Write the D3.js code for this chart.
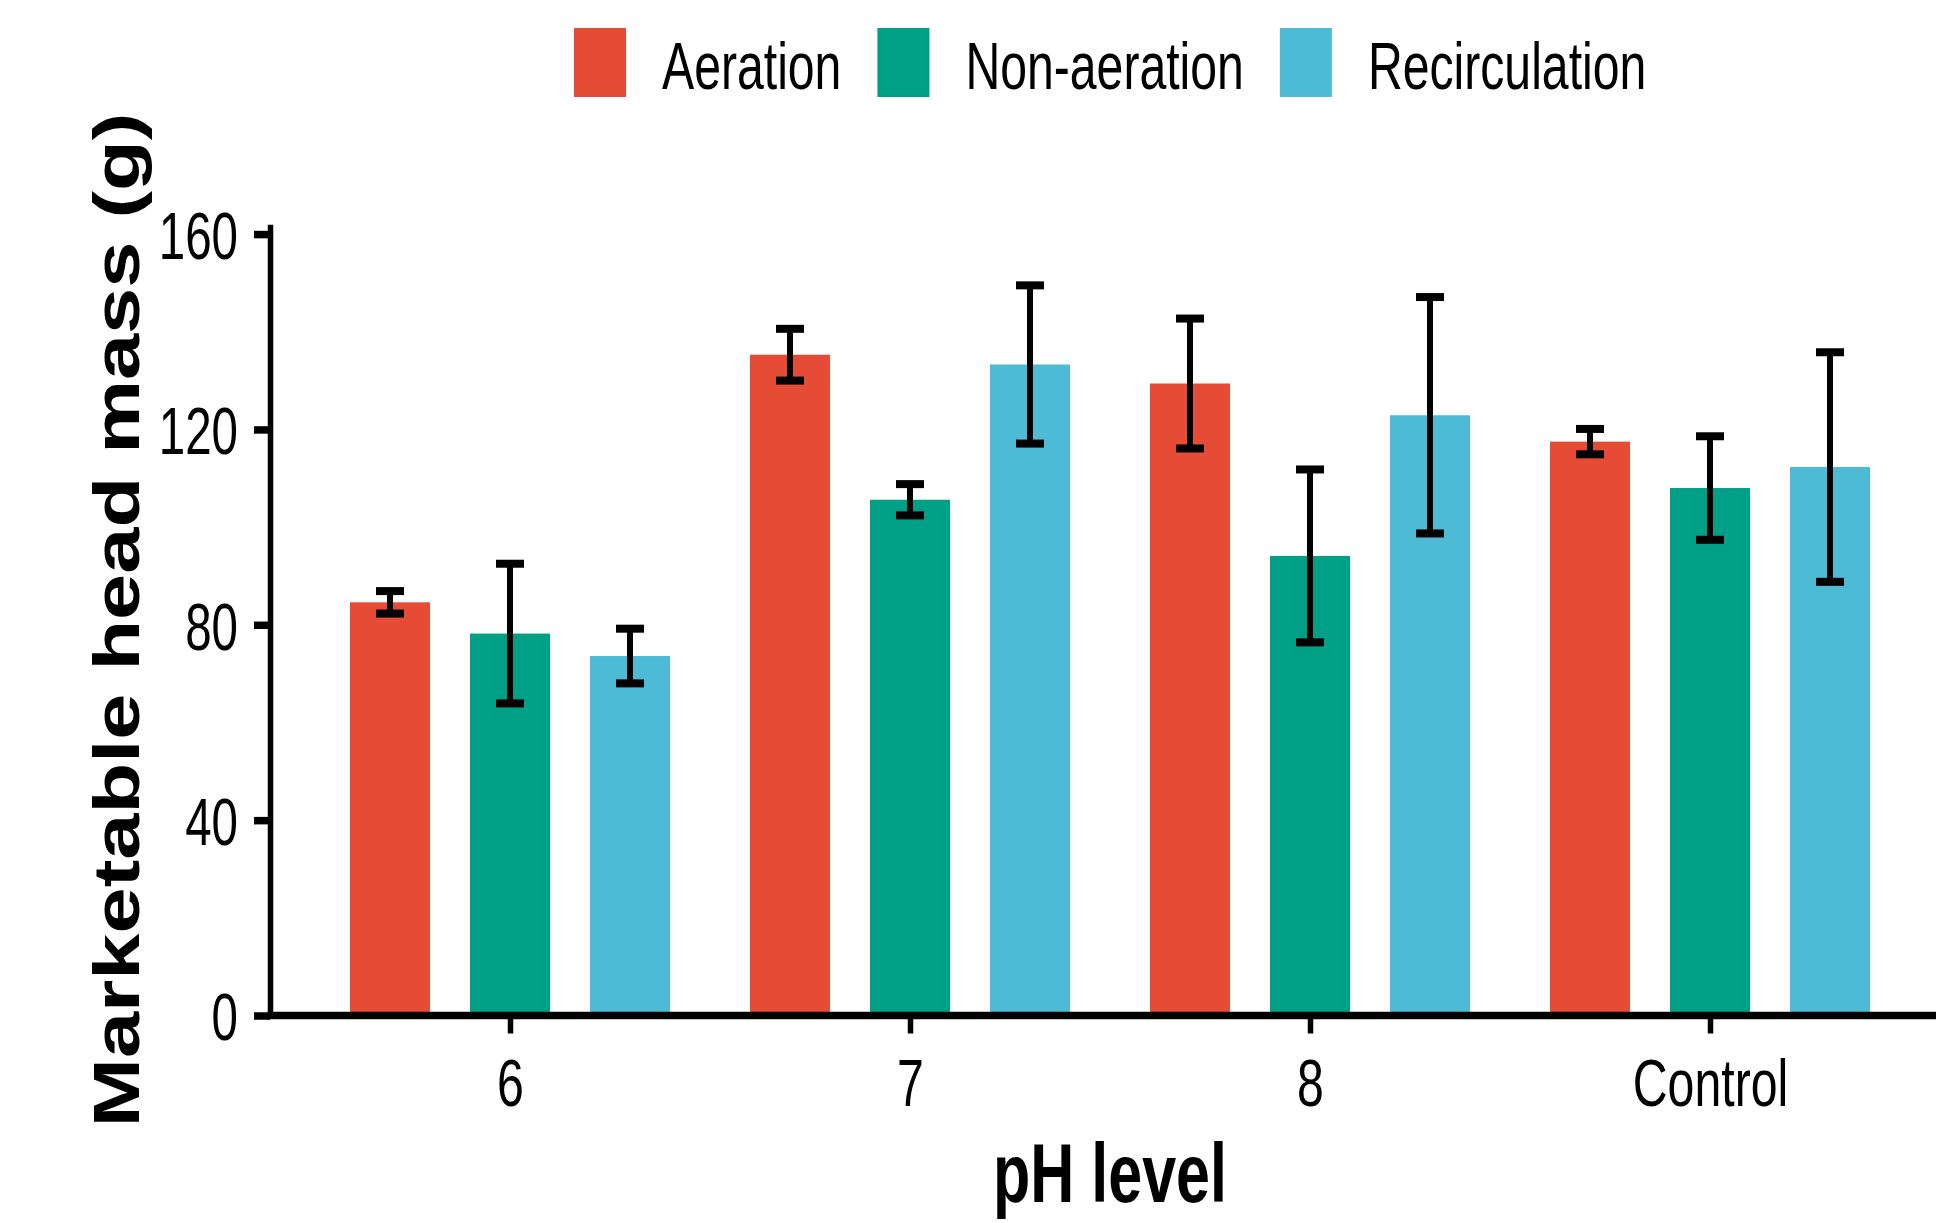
<!DOCTYPE html>
<html>
<head>
<meta charset="utf-8">
<script src="https://cdn.jsdelivr.net/npm/d3@7"></script>
<style>
  body { margin: 0; background: #fff; }
  text { font-family: "Liberation Sans", Arial, sans-serif; fill: #000; }
</style>
</head>
<body>
<div id="chart"></div>
<script>
// Marketable head mass by pH level and treatment (mean +/- error)

const categories = ["6", "7", "8", "Control"];
const series = ["Aeration", "Non-aeration", "Recirculation"];
const colors = ["#E64B35", "#00A087", "#4DBBD5"];

const aeration = [84.6, 135.3, 129.4, 117.5];
const aerationErr = [2.3, 5.3, 13.3, 2.6];
const nonAeration = [78.2, 105.6, 94.1, 108.0];
const nonAerationErr = [14.3, 3.2, 17.7, 10.6];
const recirculation = [73.6, 133.3, 122.9, 112.3];
const recirculationErr = [5.6, 16.2, 24.2, 23.5];

const yTicks = [0, 40, 80, 120, 160];

const w = 1936;
const h = 1223;
const sx = 0.72; // the original picture is squeezed sideways, so is the text

const means = [aeration, nonAeration, recirculation];
const errs = [aerationErr, nonAerationErr, recirculationErr];

// flat table for the marks
const data = [];
series.forEach((s, j) => {
  categories.forEach((c, i) => {
    data.push({ cat: c, series: s, value: means[j][i], err: errs[j][i] });
  });
});

const svg = d3.select("#chart")
  .append("svg")
  .attr("width", w)
  .attr("height", h);

// scales
const x = d3.scalePoint()
  .domain(categories)
  .range([510, 1710]);

const xSub = d3.scalePoint()
  .domain(series)
  .range([-120, 120]);

const barW = 80;
const capW = 28;

const y = d3.scaleLinear()
  .domain([0, 162])
  .range([1015.5, 224.3]);

const color = d3.scaleOrdinal()
  .domain(series)
  .range(colors);

const panelLeft = x(categories[0]) - 0.6 * x.step();
const panelRight = x(categories[categories.length - 1]) + 0.6 * x.step();

// bars
svg.append("g")
  .selectAll("rect")
  .data(data)
  .enter()
  .append("rect")
  .attr("x", d => x(d.cat) + xSub(d.series) - barW / 2)
  .attr("y", d => y(d.value))
  .attr("width", barW)
  .attr("height", d => y(0) - y(d.value))
  .attr("fill", d => color(d.series));

// error bars
const eb = svg.append("g")
  .selectAll("g")
  .data(data)
  .enter()
  .append("g")
  .attr("transform", d => `translate(${x(d.cat) + xSub(d.series)},0)`);

eb.append("line")
  .attr("x1", 0).attr("x2", 0)
  .attr("y1", d => y(d.value + d.err))
  .attr("y2", d => y(d.value - d.err))
  .attr("stroke", "#000")
  .attr("stroke-width", 6);

eb.selectAll(".cap")
  .data(d => [d.value + d.err, d.value - d.err])
  .enter()
  .append("line")
  .attr("class", "cap")
  .attr("x1", -capW / 2).attr("x2", capW / 2)
  .attr("y1", v => y(v)).attr("y2", v => y(v))
  .attr("stroke", "#000")
  .attr("stroke-width", 8);

// y axis
const yAxis = d3.axisLeft(y)
  .tickValues(yTicks)
  .tickSize(16)
  .tickSizeOuter(0);

const gy = svg.append("g")
  .attr("transform", `translate(${panelLeft},0)`)
  .call(yAxis);

gy.select(".domain").attr("stroke", "#000").attr("stroke-width", 5.5);
gy.selectAll(".tick line").attr("stroke", "#000").attr("stroke-width", 7.5);
gy.selectAll(".tick text")
  .attr("font-size", 66)
  .attr("x", -32 / sx)
  .attr("dy", "0.37em")
  .attr("transform", `scale(${sx},1)`);

// x axis
const xAxis = d3.axisBottom(x)
  .tickSize(18)
  .tickSizeOuter(0);

const gx = svg.append("g")
  .attr("transform", `translate(0,${y(0)})`)
  .call(xAxis);

gx.select(".domain").remove();
gx.append("line")
  .attr("x1", panelLeft - 2.75)
  .attr("x2", panelRight)
  .attr("stroke", "#000")
  .attr("stroke-width", 7.5);
gx.selectAll(".tick line").attr("stroke", "#000").attr("stroke-width", 5.5);
gx.selectAll(".tick text")
  .attr("font-size", 67)
  .attr("y", 91)
  .attr("dy", 0)
  .attr("transform", `scale(${sx},1)`);

// axis titles
svg.append("text")
  .attr("text-anchor", "middle")
  .attr("font-size", 84)
  .attr("font-weight", "bold")
  .attr("transform", `translate(${(panelLeft + panelRight) / 2},1202) scale(0.726,1)`)
  .text("pH level");

svg.append("text")
  .attr("text-anchor", "middle")
  .attr("font-size", 83)
  .attr("font-weight", "bold")
  .attr("transform", `translate(139,${(y(0) + y.range()[1]) / 2}) rotate(-90) scale(1,0.79)`)
  .text("Marketable head mass (g)");

// legend
const legend = svg.append("g").attr("id", "legend");
let lx = 574;
series.forEach((s, i) => {
  legend.append("rect")
    .attr("x", lx)
    .attr("y", 28)
    .attr("width", 52)
    .attr("height", 69)
    .attr("fill", colors[i]);
  const t = legend.append("text")
    .attr("font-size", 66)
    .attr("transform", `translate(${lx + 88},89) scale(0.73,1)`)
    .text(s);
  lx = lx + 88 + t.node().getComputedTextLength() * 0.73 + 36;
});
</script>
</body>
</html>
